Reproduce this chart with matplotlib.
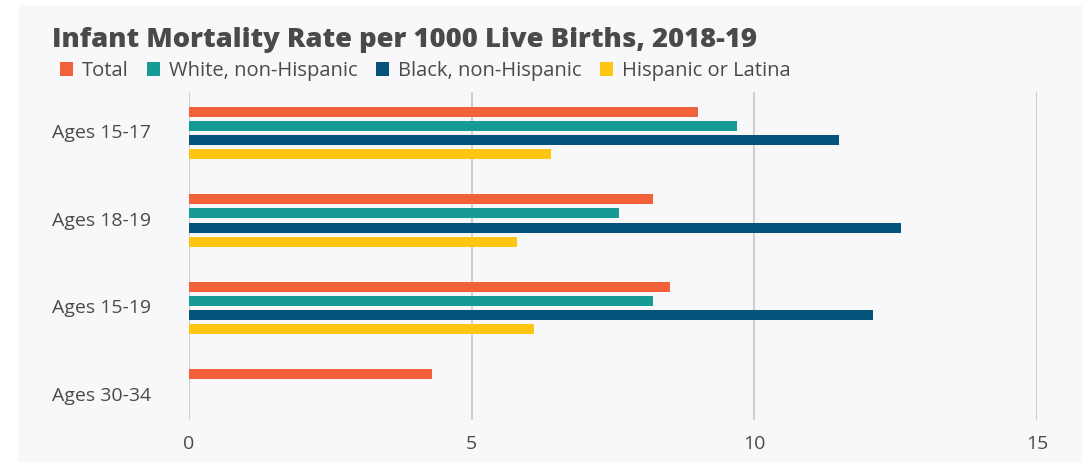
import matplotlib
matplotlib.use('Agg')
import matplotlib.pyplot as plt
import matplotlib.transforms as mtransforms
import numpy as np
from matplotlib.patches import Rectangle

categories = ['Ages 15-17', 'Ages 18-19', 'Ages 15-19', 'Ages 30-34']
series = ['Total', 'White, non-Hispanic', 'Black, non-Hispanic', 'Hispanic or Latina']
total = [9.0, 8.2, 8.5, 4.3]
white = [9.7, 7.6, 8.2, 0]
black = [11.5, 12.6, 12.1, 0]
hispanic = [6.4, 5.8, 6.1, 0]
colors = ['#f3613a', '#159a95', '#05537b', '#fec513']
xticks = [0, 5, 10, 15]

text_color = '#4a4a4a'
bg = '#f8f8fa'

plt.rcParams['font.family'] = ['Open Sans', 'DejaVu Sans']

fig = plt.figure(figsize=(10.88, 4.62), dpi=100)
fig.patches.append(Rectangle((18/1088, 0), (1082-18)/1088, 1 - 5/462,
                             transform=fig.transFigure, facecolor=bg,
                             edgecolor='none', zorder=-10))

ax = fig.add_axes([189/1088, 1 - 420/462, (1037-189)/1088, (420-92)/462])
ax.set_facecolor('none')

y = np.arange(len(categories))
step = 0.1625
height = 0.115
values = [total, white, black, hispanic]
for i, (vals, name, c) in enumerate(zip(values, series, colors)):
    ax.barh(y + (i - 1.5) * step, vals, height=height, color=c, label=name, zorder=3)

ax.set_xlim(0, 15)
ax.set_ylim(3.28, -0.47)
ax.set_xticks(xticks)
ax.set_xticklabels([str(t) for t in xticks])
ax.set_yticks(y)
ax.set_yticklabels([])
ax.tick_params(axis='both', length=0, labelsize=14, colors=text_color)
ax.tick_params(axis='x', pad=11)
ax.grid(axis='x', color='#cfcfcf', linewidth=1.5, zorder=0)
for s in ax.spines.values():
    s.set_visible(False)

# category labels, left-aligned like the original
trans = mtransforms.blended_transform_factory(fig.transFigure, ax.transData)
for yi, cat in zip(y, categories):
    ax.text(52/1088, yi, cat, transform=trans, ha='left', va='center',
            fontsize=14, color=text_color)

fig.text(52/1088, 1 - 40/462, 'Infant Mortality Rate per 1000 Live Births, 2018-19',
         fontsize=19.7, fontweight='heavy', color=text_color, va='center', ha='left')

handles, labels = ax.get_legend_handles_labels()
fig.legend(handles, labels, loc='center left', bbox_to_anchor=(42/1088, 1 - 71/462),
           ncol=4, frameon=False, fontsize=14.5, labelcolor=text_color,
           handlelength=0.65, handleheight=0.65, handletextpad=0.45, columnspacing=0.9)

plt.savefig('out.png', dpi=100)
